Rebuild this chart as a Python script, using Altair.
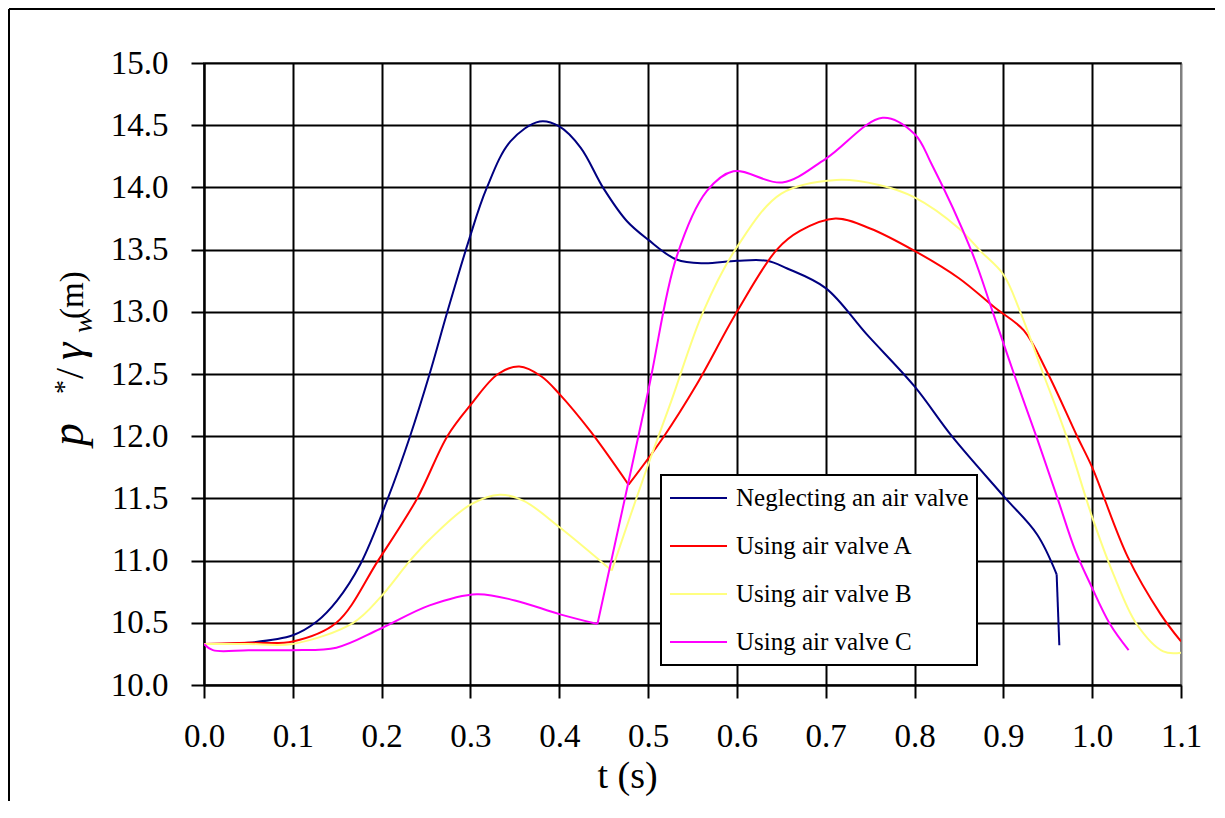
import altair as alt
import pandas as pd

series_names = ["Neglecting an air valve", "Using air valve A", "Using air valve B", "Using air valve C"]
colors = ["#000080", "#FF0000", "#FFFF80", "#FF00FF"]

# Neglecting an air valve
t_n = [0.0, 0.05, 0.1, 0.127, 0.15, 0.176, 0.207, 0.232, 0.254, 0.274, 0.298, 0.318, 0.345, 0.378, 0.4,
       0.424, 0.45, 0.476, 0.5, 0.532, 0.562, 0.6, 0.634, 0.656, 0.7, 0.746, 0.8, 0.842, 0.9, 0.938, 0.96, 0.963]
p_n = [10.33, 10.34, 10.40, 10.51, 10.68, 10.97, 11.5, 12.0, 12.5, 13.0, 13.57, 13.99, 14.37, 14.53, 14.49,
       14.32, 13.99, 13.73, 13.58, 13.42, 13.39, 13.41, 13.41, 13.35, 13.19, 12.82, 12.40, 12.0, 11.52, 11.21, 10.89, 10.32]

# Using air valve A
t_a = [0.0, 0.05, 0.1, 0.149, 0.196, 0.24, 0.274, 0.3, 0.331, 0.355, 0.38, 0.4, 0.435, 0.478, 0.517, 0.555,
       0.6, 0.645, 0.671, 0.711, 0.75, 0.8, 0.85, 0.891, 0.923, 0.949, 0.983, 1.0, 1.04, 1.077, 1.1]
p_a = [10.33, 10.34, 10.35, 10.50, 11.0, 11.5, 12.0, 12.25, 12.5, 12.56, 12.48, 12.34, 12.04, 11.61, 11.99, 12.42,
       13.0, 13.5, 13.65, 13.75, 13.67, 13.49, 13.27, 13.03, 12.85, 12.52, 12.0, 11.75, 11.03, 10.57, 10.35]

# Using air valve B
t_b = [0.0, 0.05, 0.1, 0.168, 0.198, 0.232, 0.254, 0.3, 0.333, 0.36, 0.4, 0.459, 0.498, 0.526, 0.562, 0.6,
       0.65, 0.712, 0.76, 0.8, 0.85, 0.874, 0.9, 0.919, 0.945, 0.971, 1.0, 1.024, 1.05, 1.08, 1.1]
p_b = [10.33, 10.33, 10.33, 10.50, 10.70, 11.0, 11.17, 11.45, 11.53, 11.48, 11.27, 10.92, 11.73, 12.28, 13.0, 13.52,
       13.95, 14.06, 14.02, 13.92, 13.67, 13.49, 13.30, 13.0, 12.5, 12.0, 11.35, 10.89, 10.49, 10.27, 10.26]

# Using air valve C
t_c = [0.0, 0.01, 0.05, 0.1, 0.149, 0.198, 0.254, 0.307, 0.35, 0.4, 0.443, 0.5, 0.532, 0.566, 0.596, 0.651,
       0.7, 0.764, 0.8, 0.819, 0.864, 0.888, 0.912, 0.937, 0.961, 0.981, 0.998, 1.02, 1.041]
p_c = [10.33, 10.28, 10.28, 10.28, 10.30, 10.45, 10.64, 10.73, 10.68, 10.57, 10.49, 12.36, 13.44, 13.97, 14.13, 14.04,
       14.23, 14.56, 14.43, 14.19, 13.49, 13.0, 12.5, 12.0, 11.5, 11.08, 10.81, 10.49, 10.28]

# time of the sharp corner in each curve (the curve is drawn in two pieces there)
corners = [0.96, 0.478, 0.459, 0.443]

x_ticks = [0.0, 0.1, 0.2, 0.3, 0.4, 0.5, 0.6, 0.7, 0.8, 0.9, 1.0, 1.1]
y_ticks = [10.0, 10.5, 11.0, 11.5, 12.0, 12.5, 13.0, 13.5, 14.0, 14.5, 15.0]

rows = []
for name, ts, ps, c in zip(series_names, [t_n, t_a, t_b, t_c], [p_n, p_a, p_b, p_c], corners):
    for t, p in zip(ts, ps):
        if t <= c:
            rows.append({"series": name, "t": t, "p": p, "part": "a"})
        if t >= c:
            rows.append({"series": name, "t": t, "p": p, "part": "b"})
df = pd.DataFrame(rows)

FONT = "Liberation Serif"

lines = alt.Chart(df).mark_line(interpolate="catmull-rom", strokeWidth=2, clip=True).encode(
    x=alt.X("t:Q", scale=alt.Scale(domain=[0, 1.1], nice=False, zero=False),
            axis=alt.Axis(values=x_ticks, format=".1f", title="t (s)", titleX=423, titleY=102,
                          titleBaseline="alphabetic", titleAlign="center", labelPadding=22,
                          labelFlush=False, titleFontSize=38,
                          gridColor={"condition": {"test": "datum.value >= 1.05", "value": "#808080"}, "value": "black"})),
    y=alt.Y("p:Q", scale=alt.Scale(domain=[10, 15], nice=False, zero=False),
            axis=alt.Axis(values=y_ticks, format=".1f", title=None, labelPadding=23, labelFlush=False)),
    color=alt.Color("series:N", scale=alt.Scale(domain=series_names, range=colors),
                    legend=alt.Legend(title=None, orient="none", legendX=457, legendY=412,
                                      symbolType="stroke", symbolSize=3249, symbolStrokeWidth=2,
                                      labelFont=FONT, labelFontSize=25, labelColor="black", labelLimit=500,
                                      labelOffset=8, padding=8, rowPadding=18, clipHeight=30,
                                      strokeColor="black", fillColor="white")),
    detail="part:N",
)

one = alt.Data(values=[{}])

left_border = alt.Chart(one).mark_rule(color="black", strokeWidth=2).encode(
    x=alt.value(-195), y=alt.value(-54), y2=alt.value(738))
top_border = alt.Chart(one).mark_rule(color="black", strokeWidth=2).encode(
    x=alt.value(-195), x2=alt.value(1011), y=alt.value(-54))

def piece(txt, y, size, style, bx):
    return alt.Chart(one).mark_text(text=txt, angle=270, align="left", baseline="alphabetic",
                                    font=FONT, fontSize=size, fontStyle=style, color="black").encode(
        x=alt.value(bx), y=alt.value(y))

ytitle = [
    piece("p", 383, 46, "italic", -121),
    piece("*", 331, 28, "normal", -131),
    piece("/", 316, 40, "normal", -121),
    piece("\u03b3", 297, 44, "italic", -121),
    piece("w", 270, 28, "italic", -112),
    piece("(m)", 256, 33, "normal", -121),
]

chart = alt.layer(lines, left_border, top_border, *ytitle).properties(
    width=977, height=622, padding={"left": 0, "top": 0, "right": 0, "bottom": 0}
).configure_view(stroke="#808080", strokeWidth=2).configure_axis(
    grid=True, gridWidth=2, gridOpacity=1, gridColor="black",
    domainColor="black", domainWidth=2, tickColor="black", tickWidth=2, tickSize=13,
    labelFont=FONT, labelFontSize=33, labelColor="black",
    titleFont=FONT, titleFontSize=31, titleColor="black", titleFontWeight="normal"
).configure_legend(strokeWidth=2)

chart.save("out.html", embed_options={"renderer": "svg", "actions": False})
